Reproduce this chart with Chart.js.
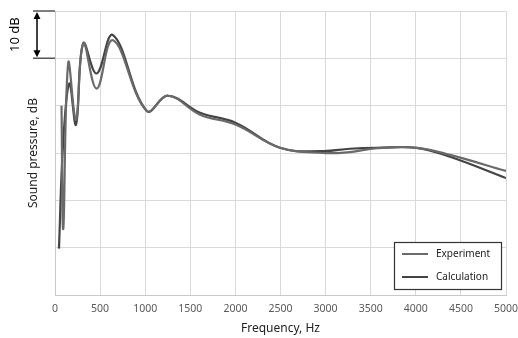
<!DOCTYPE html>
<html>
<head>
<meta charset="utf-8">
<script src="https://cdn.jsdelivr.net/npm/chart.js@4.4.1/dist/chart.umd.min.js"></script>
<style>
  html, body { margin: 0; padding: 0; background: #fff; }
  #wrap { width: 518px; height: 338px; }
</style>
</head>
<body>
<div id="wrap"><canvas id="mycanvas"></canvas></div>
<script>
// frequency (Hz) and level (dB, relative)
var expFreq  = [72, 92, 147, 233, 314, 462, 643, 1017, 1253, 1608, 2000, 2494, 2971, 3270, 3567, 4010, 4379, 5000];
var expLevel = [40, 14, 49.1, 37, 53.2, 43.6, 53.8, 38.9, 42.1, 38.1, 36.0, 31.1, 30.0, 30.2, 31.0, 31.1, 29.6, 26.2];

var calcFreq  = [44, 90, 159, 233, 314, 462, 643, 1017, 1253, 1608, 2000, 2494, 2971, 3270, 3567, 4010, 4379, 5000];
var calcLevel = [9.8, 32, 44.7, 36, 53.2, 46.8, 54.9, 38.9, 42.1, 38.5, 36.4, 31.1, 30.4, 30.9, 31.1, 31.1, 29.2, 24.7];

var xTicks = [0, 500, 1000, 1500, 2000, 2500, 3000, 3500, 4000, 4500, 5000];

function toPoints(xs, ys) {
  var pts = [];
  for (var i in xs) {
    pts.push({x: xs[i], y: ys[i]});
  }
  return pts;
}

// the "10 dB" bracket on the left and the boxed legend inside the plot
var extras = {
  id: 'extras',
  afterDraw: function(chart) {
    var c = chart.ctx;
    var y = chart.scales.y;
    var area = chart.chartArea;
    var yTop = y.getPixelForValue(60);
    var yBot = y.getPixelForValue(50);
    c.save();
    c.strokeStyle = '#555';
    c.lineWidth = 1.5;
    c.beginPath();
    c.moveTo(33, yTop); c.lineTo(area.left, yTop);
    c.moveTo(33, yBot); c.lineTo(area.left, yBot);
    c.stroke();
    // arrow shaft
    c.strokeStyle = '#000';
    c.lineWidth = 1.5;
    c.beginPath();
    c.moveTo(37, yTop + 4); c.lineTo(37, yBot - 4);
    c.stroke();
    c.fillStyle = '#000';
    c.beginPath();
    c.moveTo(37, yTop + 1); c.lineTo(33.5, yTop + 8); c.lineTo(40.5, yTop + 8); c.closePath();
    c.moveTo(37, yBot - 1); c.lineTo(33.5, yBot - 8); c.lineTo(40.5, yBot - 8); c.closePath();
    c.fill();
    // 10 dB label
    c.translate(15, (yTop + yBot) / 2);
    c.rotate(-Math.PI / 2);
    c.font = '13px "Noto Sans"';
    c.textAlign = 'center';
    c.textBaseline = 'middle';
    c.fillText('10 dB', 0, 0);
    c.restore();

    // legend box
    c.save();
    var bx = 394, by = 242, bw = 107, bh = 47;
    c.fillStyle = '#fff';
    c.fillRect(bx, by, bw, bh);
    c.strokeStyle = '#333';
    c.lineWidth = 1.2;
    c.strokeRect(bx + 0.5, by + 0.5, bw, bh);
    c.font = '10px "Noto Sans"';
    c.textBaseline = 'middle';
    var rows = [254, 277];
    chart.data.datasets.forEach(function(ds, i) {
      c.strokeStyle = ds.borderColor;
      c.lineWidth = 2;
      c.beginPath();
      c.moveTo(402, rows[i]); c.lineTo(428, rows[i]);
      c.stroke();
      c.fillStyle = '#222';
      c.fillText(ds.label, 436, rows[i]);
    });
    c.restore();
  }
};

var chartdata = {
  datasets: [
    {
      label: 'Experiment',
      borderColor: '#6a6a6a',
      borderWidth: 2.2,
      data: toPoints(expFreq, expLevel),
      showLine: true,
      tension: 0.4,
      pointRadius: 0
    },
    {
      label: 'Calculation',
      borderColor: '#444444',
      borderWidth: 2.2,
      data: toPoints(calcFreq, calcLevel),
      showLine: true,
      tension: 0.4,
      pointRadius: 0
    }
  ]
};

var gridColor = '#d9d9d9';

new Chart(document.getElementById('mycanvas'), {
  type: 'scatter',
  data: chartdata,
  plugins: [extras],
  options: {
    responsive: true,
    maintainAspectRatio: false,
    animation: false,
    layout: { padding: { top: 11, right: 0, bottom: 2, left: 0 } },
    scales: {
      x: {
        type: 'linear',
        min: 0,
        max: 5000,
        afterBuildTicks: function(scale) {
          scale.ticks = xTicks.map(function(v) { return {value: v}; });
        },
        afterFit: function(scale) { scale.paddingRight = 12; },
        grid: { color: gridColor, drawTicks: false },
        border: { color: '#c8c8c8' },
        ticks: {
          color: '#595959',
          padding: 8,
          font: { family: '"Noto Sans"', size: 10.5 },
          callback: function(v) { return String(v); }
        },
        title: {
          display: true,
          text: 'Frequency, Hz',
          color: '#222',
          padding: { top: -2, bottom: 0 },
          font: { family: '"Noto Sans"', size: 12 }
        }
      },
      y: {
        min: 0,
        max: 60,
        ticks: { display: false, stepSize: 10 },
        grid: { color: gridColor, drawTicks: false },
        border: { color: '#c8c8c8' },
        afterFit: function(scale) { scale.width = 55; },
        title: {
          display: true,
          text: 'Sound pressure, dB',
          color: '#222',
          padding: { top: 26, bottom: 0 },
          font: { family: '"Noto Sans"', size: 12 }
        }
      }
    },
    plugins: {
      legend: { display: false },
      tooltip: { enabled: false }
    }
  }
});
</script>
</body>
</html>
